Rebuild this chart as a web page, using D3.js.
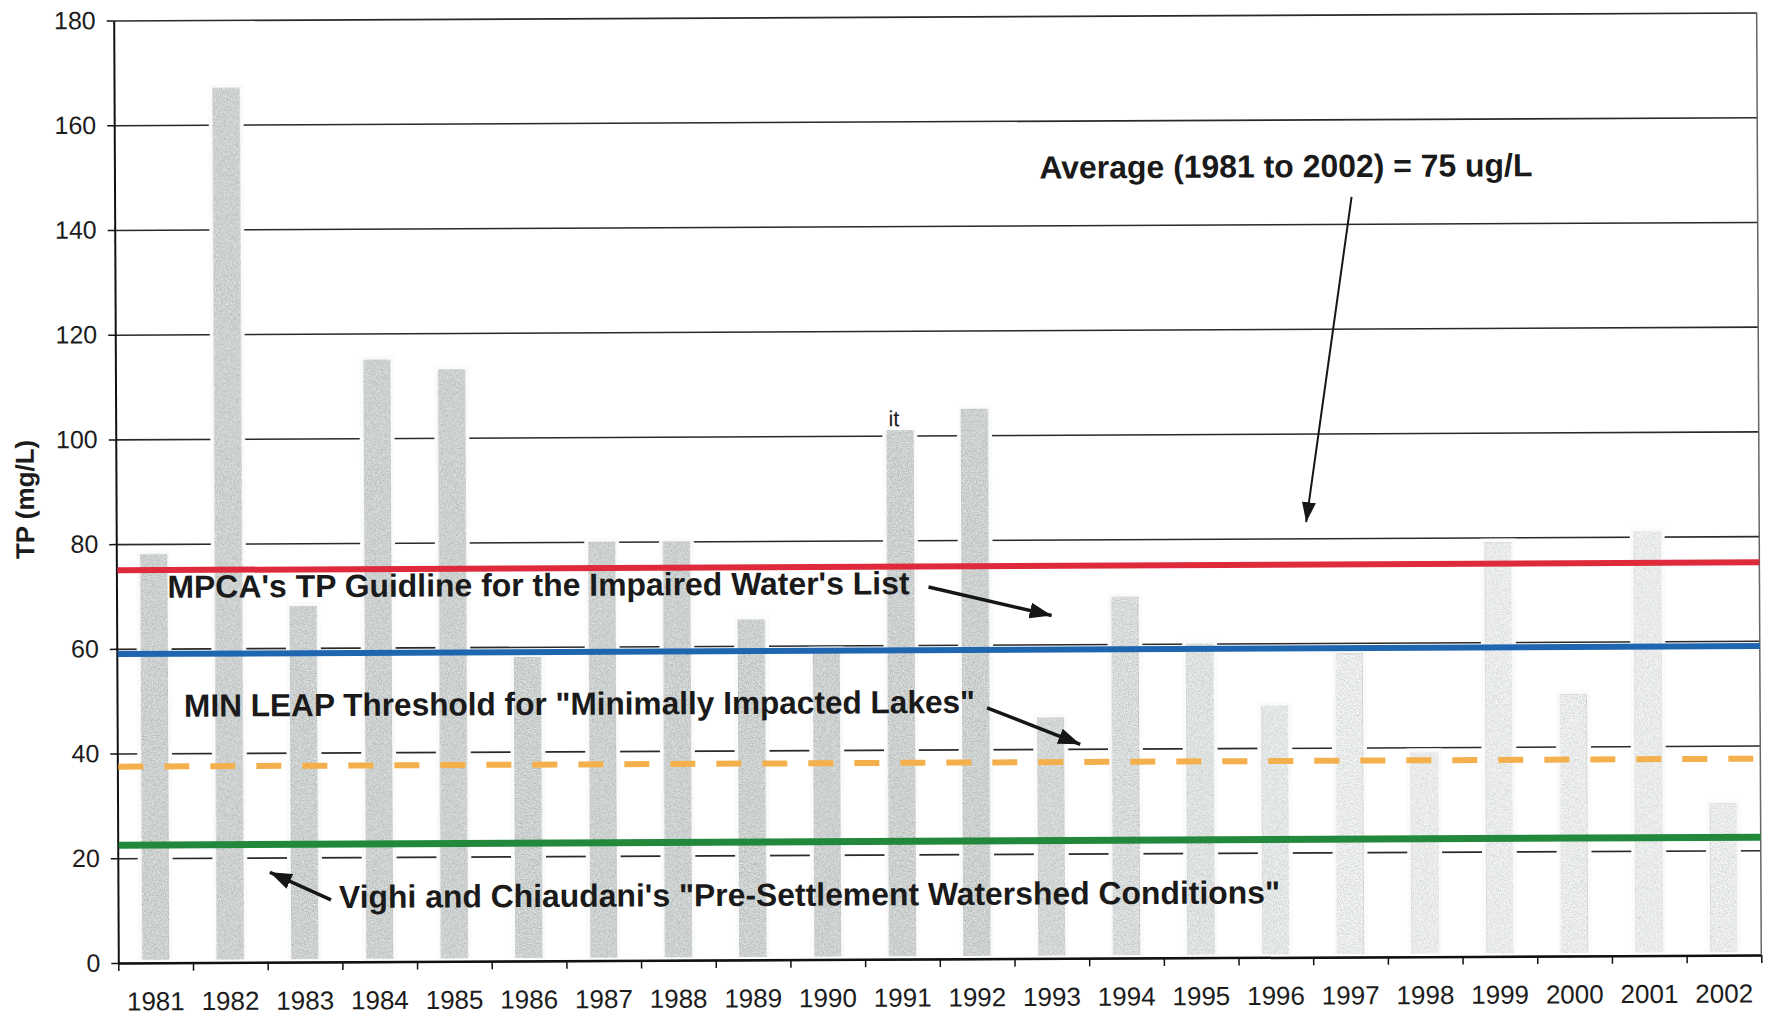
<!DOCTYPE html>
<html>
<head>
<meta charset="utf-8">
<script src="https://cdnjs.cloudflare.com/ajax/libs/d3/7.8.5/d3.min.js"></script>
<style>
  html, body { margin: 0; padding: 0; background: #fff; }
  svg { display: block; }
  text { font-family: "Liberation Sans", Arial, Helvetica, sans-serif; }
</style>
</head>
<body>
<svg id="chart" width="1773" height="1015"></svg>
<script>
// Annual mean total phosphorus, 1981-2002
const years = [1981, 1982, 1983, 1984, 1985, 1986, 1987, 1988, 1989, 1990, 1991,
               1992, 1993, 1994, 1995, 1996, 1997, 1998, 1999, 2000, 2001, 2002];
const tp = [78, 167, 68, 115, 113, 58, 80, 80, 65, 59, 101,
            105, 46, 69, 60, 48, 58, 39, 79, 50, 81, 29];
const yTicks = [0, 20, 40, 60, 80, 100, 120, 140, 160, 180];

// Reference levels drawn across the whole period
const refKeys = ["average", "mpca", "minleap", "vighi"];
const refValues = [75, 59, 37.5, 22.5];

const refStyle = {
  average: { color: "#de2a3b", width: 6, dash: null },
  mpca:    { color: "#1f66b1", width: 6, dash: null },
  minleap: { color: "#f3b04c", width: 6, dash: "25,21" },
  vighi:   { color: "#22893c", width: 7, dash: null }
};

const svg = d3.select("#chart");
const plotL = 116, plotR = 1759, plotT = 16.5, plotB = 959;

const defs = svg.append("defs");
// speckled halftone texture for the bars
const grain = defs.append("filter").attr("id", "grain")
  .attr("x", "0").attr("y", "0").attr("width", "1").attr("height", "1");
grain.append("feTurbulence").attr("type", "fractalNoise")
  .attr("baseFrequency", "0.8").attr("numOctaves", 2).attr("seed", 7).attr("result", "noise");
grain.append("feColorMatrix").attr("in", "noise").attr("type", "matrix")
  .attr("values", "1 0 0 0 0  1 0 0 0 0  1 0 0 0 0  0 0 0 0 1").attr("result", "gray");
grain.append("feComposite").attr("in", "SourceGraphic").attr("in2", "gray")
  .attr("operator", "arithmetic").attr("k1", 0).attr("k2", 1).attr("k3", 0.7).attr("k4", -0.35)
  .attr("result", "mix");
grain.append("feComposite").attr("in", "mix").attr("in2", "SourceGraphic").attr("operator", "in");

function arrowMarker(id, len, wid) {
  defs.append("marker").attr("id", id)
    .attr("viewBox", `0 0 ${len} ${wid}`)
    .attr("refX", len).attr("refY", wid / 2)
    .attr("markerWidth", len).attr("markerHeight", wid)
    .attr("markerUnits", "userSpaceOnUse")
    .attr("orient", "auto")
    .append("path").attr("d", `M0,0 L${len},${wid / 2} L0,${wid} Z`).attr("fill", "#161616");
}
arrowMarker("headBig", 22, 16);
arrowMarker("headThin", 20, 14);

// whole figure sits very slightly tilted
const g = svg.append("g").attr("transform", "rotate(-0.28, 937, 490)");

const x = d3.scaleBand().domain(years).range([plotL, plotR])
  .paddingInner(0.64).paddingOuter(0.32);
const y = d3.scaleLinear().domain([0, 180]).range([plotB, plotT]);
const slots = d3.scaleLinear().domain([0, years.length]).range([plotL, plotR]);

// gridlines
g.append("g").attr("class", "grid")
  .attr("transform", `translate(${plotL},0)`)
  .call(d3.axisLeft(y).tickValues(yTicks).tickSize(-(plotR - plotL)).tickFormat(""))
  .call(s => s.select(".domain").remove())
  .call(s => s.selectAll("line").attr("stroke", "#2a2a2a").attr("stroke-width", 1.6));

// bar tone fades toward the later years
const tone = d3.scaleLinear().domain([1992, 1997]).range(["#ccd1d0", "#e9ebeb"]).clamp(true);

const bars = g.append("g").attr("class", "bars");
bars.selectAll("rect.halo").data(years).join("rect").attr("class", "halo")
  .attr("x", d => x(d) - 4)
  .attr("width", x.bandwidth() + 8)
  .attr("y", (d, i) => y(tp[i]) - 4)
  .attr("height", (d, i) => y(0) - y(tp[i]) + 4 - 2)
  .attr("fill", "#fbfbfb");
bars.selectAll("rect.bar").data(years).join("rect").attr("class", "bar")
  .attr("x", d => x(d))
  .attr("width", x.bandwidth())
  .attr("y", (d, i) => y(tp[i]))
  .attr("height", (d, i) => y(0) - y(tp[i]) - 3)
  .attr("fill", d => tone(d))
  .attr("filter", "url(#grain)");

// y axis
g.append("g").attr("class", "y-axis")
  .attr("transform", `translate(${plotL},0)`)
  .call(d3.axisLeft(y).tickValues(yTicks).tickSize(7).tickPadding(11).tickSizeOuter(0))
  .call(s => s.select(".domain").attr("stroke", "#111").attr("stroke-width", 2))
  .call(s => s.selectAll("line").attr("stroke", "#111").attr("stroke-width", 1.5))
  .call(s => s.selectAll("text").attr("font-size", 25).attr("fill", "#1c1c1c")
    .attr("font-family", "Liberation Sans, Arial, sans-serif"));

// x axis: year labels under each bar, tick marks between years
g.append("g").attr("class", "x-ticks")
  .attr("transform", `translate(0,${plotB})`)
  .call(d3.axisBottom(slots).tickValues(d3.range(0, years.length + 1)).tickSize(8).tickFormat("").tickSizeOuter(0))
  .call(s => s.select(".domain").attr("stroke", "#111").attr("stroke-width", 2.5))
  .call(s => s.selectAll("line").attr("stroke", "#111").attr("stroke-width", 1.5));
g.append("g").attr("class", "x-axis")
  .attr("transform", `translate(0,${plotB})`)
  .call(d3.axisBottom(x).tickSize(0).tickPadding(29))
  .call(s => s.select(".domain").remove())
  .call(s => s.selectAll("text").attr("font-size", 26).attr("fill", "#1c1c1c")
    .attr("font-family", "Liberation Sans, Arial, sans-serif"));

// right frame edge
g.append("line").attr("x1", plotR).attr("x2", plotR).attr("y1", y(180)).attr("y2", y(0))
  .attr("stroke", "#666").attr("stroke-width", 1.5);

// reference levels
g.append("g").attr("class", "refs").selectAll("line").data(refKeys).join("line")
  .attr("x1", plotL + 1).attr("x2", plotR)
  .attr("y1", (k, i) => y(refValues[i])).attr("y2", (k, i) => y(refValues[i]))
  .attr("stroke", k => refStyle[k].color)
  .attr("stroke-width", k => refStyle[k].width)
  .attr("stroke-dasharray", k => refStyle[k].dash);

// y axis title
g.append("text").attr("transform", "translate(34,495) rotate(-90)")
  .attr("text-anchor", "middle").attr("font-size", 26).attr("font-weight", "bold")
  .attr("fill", "#1c1c1c").text("TP (mg/L)");

// stray mark above the 1991 bar
g.append("text").attr("x", x(1991) + 2).attr("y", 426).attr("font-size", 22)
  .attr("fill", "#222").text("it");

// annotations
const notes = [
  { text: "Average (1981 to 2002) = 75 ug/L", x: 1041, y: 179, len: 493 },
  { text: "MPCA's TP Guidline for the Impaired Water's List", x: 167, y: 594, len: 742 },
  { text: "MIN LEAP Threshold for \"Minimally Impacted Lakes\"", x: 183, y: 713, len: 791 },
  { text: "Vighi and Chiaudani's \"Pre-Settlement Watershed Conditions\"", x: 337, y: 905, len: 941 }
];
g.append("g").attr("class", "notes").selectAll("text").data(notes).join("text")
  .attr("x", d => d.x).attr("y", d => d.y)
  .attr("font-size", 32).attr("font-weight", "bold").attr("fill", "#1a1a1a")
  .attr("textLength", d => d.len).attr("lengthAdjust", "spacingAndGlyphs")
  .text(d => d.text);

const arrows = [
  { x1: 1353, y1: 199, x2: 1306, y2: 524, w: 2, head: "headThin" },
  { x1: 928, y1: 587, x2: 1051, y2: 616, w: 3.5, head: "headBig" },
  { x1: 986, y1: 708, x2: 1079, y2: 745, w: 3.5, head: "headBig" },
  { x1: 329, y1: 897, x2: 268, y2: 869, w: 3.5, head: "headBig" }
];
g.append("g").attr("class", "arrows").selectAll("line").data(arrows).join("line")
  .attr("x1", d => d.x1).attr("y1", d => d.y1).attr("x2", d => d.x2).attr("y2", d => d.y2)
  .attr("stroke", "#161616").attr("stroke-width", d => d.w)
  .attr("marker-end", d => `url(#${d.head})`);
</script>
</body>
</html>
